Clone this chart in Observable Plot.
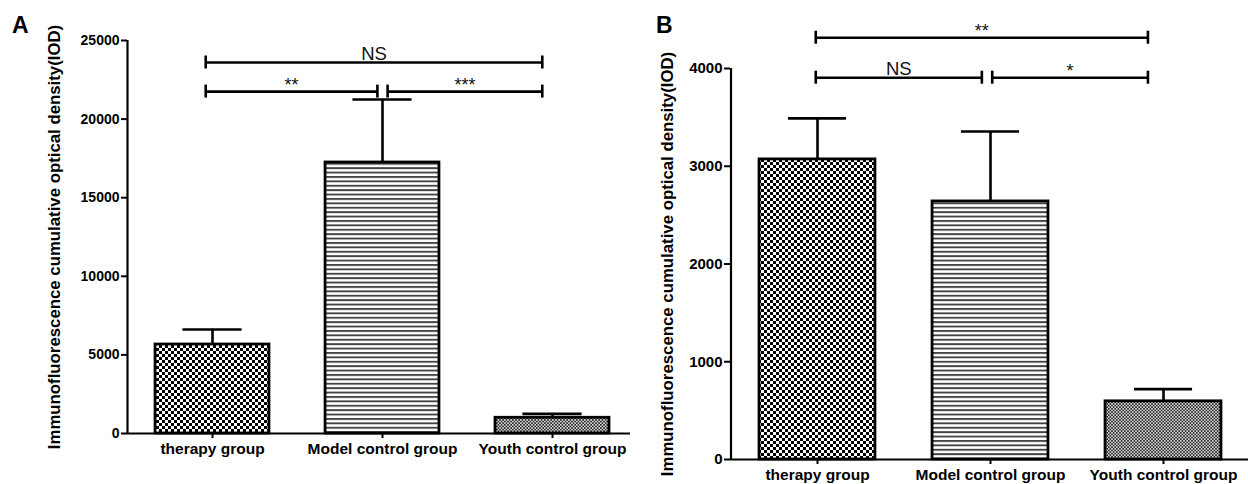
<!DOCTYPE html>
<html><head><meta charset="utf-8">
<script src="https://cdn.jsdelivr.net/npm/d3@7"></script>
<script src="https://cdn.jsdelivr.net/npm/@observablehq/plot@0.6"></script>
<style>
html,body{margin:0;padding:0;background:#fff;}
#wrap{position:relative;width:1248px;height:484px;overflow:hidden;font-family:"Liberation Sans",Arial,sans-serif;}
.panel{position:absolute;top:0;}
.panel svg{background:transparent;}
.letter{position:absolute;font-weight:bold;font-size:23px;line-height:1;}
</style></head><body>
<div id="wrap"></div>
<script>
// ---- data ----
const categories = ["therapy group", "Model control group", "Youth control group"];
const yTitle = "Immunofluorescence cumulative optical density(IOD)";

const meanA = [5660, 17240, 1000];
const upperA = [6620, 21250, 1250];
const yTicksA = [0, 5000, 10000, 15000, 20000, 25000];
const bracketLabelsA = ["NS", "**", "***"];
const bracketFromA = [-0.04, -0.04, 1.03];
const bracketToA = [1.94, 0.97, 1.94];
const bracketYA = [23600, 21750, 21750];

const meanB = [3070, 2640, 595];
const upperB = [3490, 3355, 720];
const yTicksB = [0, 1000, 2000, 3000, 4000];
const bracketLabelsB = ["**", "NS", "*"];
const bracketFromB = [-0.01, -0.01, 1.01];
const bracketToB = [1.91, 0.95, 1.91];
const bracketYB = [4315, 3906, 3906];

const FONT = "Liberation Sans, Arial, Helvetica, sans-serif";

function addPatterns(svg, id) {
  const defs = d3.select(svg).insert("defs", ":first-child");
  // coarse checkerboard
  let p = defs.append("pattern").attr("id", id + "-p0").attr("patternUnits", "userSpaceOnUse").attr("width", 6).attr("height", 6);
  p.append("rect").attr("width", 6).attr("height", 6).attr("fill", "#fff");
  p.append("rect").attr("width", 3).attr("height", 3).attr("fill", "#000");
  p.append("rect").attr("x", 3).attr("y", 3).attr("width", 3).attr("height", 3).attr("fill", "#000");
  // horizontal stripes
  p = defs.append("pattern").attr("id", id + "-p1").attr("patternUnits", "userSpaceOnUse").attr("width", 10).attr("height", 4.4);
  p.append("rect").attr("width", 10).attr("height", 4.4).attr("fill", "#fff");
  p.append("rect").attr("y", 0).attr("width", 10).attr("height", 1.9).attr("fill", "#444");
  // fine checkerboard
  p = defs.append("pattern").attr("id", id + "-p2").attr("patternUnits", "userSpaceOnUse").attr("width", 3.2).attr("height", 3.2);
  p.append("rect").attr("width", 3.2).attr("height", 3.2).attr("fill", "#ddd");
  p.append("rect").attr("width", 1.6).attr("height", 1.6).attr("fill", "#222");
  p.append("rect").attr("x", 1.6).attr("y", 1.6).attr("width", 1.6).attr("height", 1.6).attr("fill", "#222");
}

function panel(o) {
  const bars = categories.map((c, i) => ({i, c, mean: o.mean[i], upper: o.upper[i]}));
  const brackets = o.bLabels.map((l, k) => ({label: l, x1: o.bFrom[k], x2: o.bTo[k], y: o.bY[k]}));
  const mid = d => (d.x1 + d.x2) / 2;
  const svg = Plot.plot({
    width: o.width, height: 484,
    marginLeft: o.marginLeft, marginRight: o.marginRight, marginTop: o.marginTop, marginBottom: o.marginBottom,
    style: {fontFamily: FONT, background: "transparent", overflow: "visible", color: "#000"},
    x: {domain: [-0.5, 2.5], range: o.xRange, axis: null},
    y: {domain: [0, o.yMax], axis: null},
    marks: [
      ...bars.map(b => Plot.rectY([b], {x1: d => d.i - 0.335, x2: d => d.i + 0.335, y1: 0, y2: "mean",
        fill: `url(#${o.id}-p${b.i})`, stroke: "#000", strokeWidth: 2.8})),
      Plot.ruleX(bars, {x: "i", y1: "mean", y2: "upper", stroke: "#000", strokeWidth: 2.6}),
      Plot.ruleY(bars, {x1: d => d.i - o.capHalf, x2: d => d.i + o.capHalf, y: "upper", stroke: "#000", strokeWidth: 2.6}),
      Plot.ruleY(brackets, {x1: "x1", x2: "x2", y: "y", stroke: "#000", strokeWidth: 2.6}),
      Plot.ruleX(brackets, {x: "x1", y1: "y", y2: "y", insetTop: -6.5, insetBottom: -6.5, stroke: "#000", strokeWidth: 2.6}),
      Plot.ruleX(brackets, {x: "x2", y1: "y", y2: "y", insetTop: -6.5, insetBottom: -6.5, stroke: "#000", strokeWidth: 2.6}),
      Plot.text(brackets.filter(d => d.label === "NS"), {x: mid, y: "y", text: "label", lineAnchor: "bottom", dy: -3,
        fontSize: 18.5, fill: "#111"}),
      Plot.text(brackets.filter(d => d.label !== "NS"), {x: mid, y: "y", text: "label", lineAnchor: "bottom", dy: -1,
        fontSize: 18, fill: "#111"}),
      Plot.ruleX([-0.5], {y1: 0, y2: o.yMax, stroke: "#000", strokeWidth: 2.2}),
      Plot.ruleY([0], {stroke: "#000", strokeWidth: 2.2}),
      Plot.axisY({ticks: o.yTicks, tickSize: 6, tickPadding: 2, tickFormat: d => String(d), label: null,
        fontSize: o.tickFont, fontWeight: "bold", strokeWidth: 2}),
      Plot.axisX({ticks: [0, 1, 2], tickFormat: i => categories[i], tickSize: 5, tickPadding: 4, label: null,
        fontSize: 15.5, fontWeight: "bold", strokeWidth: 2}),
      Plot.text([yTitle], {frameAnchor: "left", rotate: -90, dx: o.titleDx, fontSize: 16.8, fontWeight: "bold",
        textAnchor: "middle", lineAnchor: "middle"})
    ]
  });
  addPatterns(svg, o.id);
  return svg;
}

const wrap = document.getElementById("wrap");

const svgA = panel({id: "pa", mean: meanA, upper: upperA, yTicks: yTicksA, yMax: 25000,
  bLabels: bracketLabelsA, bFrom: bracketFromA, bTo: bracketToA, bY: bracketYA,
  width: 640, marginLeft: 127, marginRight: 10, marginTop: 40, marginBottom: 51,
  xRange: [127, 637], tickFont: 14, capHalf: 0.174, titleDx: -73});
const svgB = panel({id: "pb", mean: meanB, upper: upperB, yTicks: yTicksB, yMax: 4000,
  bLabels: bracketLabelsB, bFrom: bracketFromB, bTo: bracketToB, bY: bracketYB,
  width: 628, marginLeft: 110, marginRight: 0, marginTop: 68, marginBottom: 25,
  xRange: [110.5, 629.5], tickFont: 15, capHalf: 0.168, titleDx: -63});

const dA = document.createElement("div"); dA.className = "panel"; dA.style.left = "0px"; dA.appendChild(svgA);
const dB = document.createElement("div"); dB.className = "panel"; dB.style.left = "620px"; dB.appendChild(svgB);
wrap.appendChild(dA); wrap.appendChild(dB);

const la = document.createElement("div"); la.className = "letter"; la.textContent = "A"; la.style.left = "12px"; la.style.top = "14px";
const lb = document.createElement("div"); lb.className = "letter"; lb.textContent = "B"; lb.style.left = "656px"; lb.style.top = "14px";
wrap.appendChild(la); wrap.appendChild(lb);
</script>
</body></html>
